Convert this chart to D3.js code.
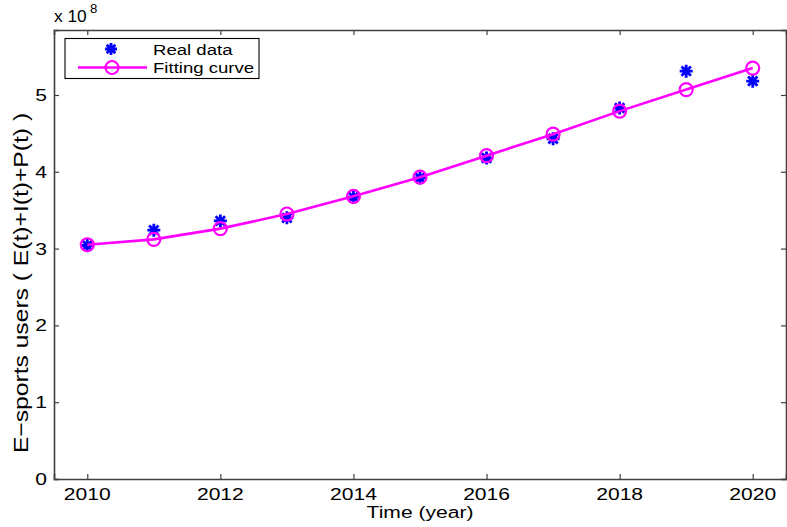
<!DOCTYPE html>
<html><head><meta charset="utf-8">
<script src="https://cdn.jsdelivr.net/npm/d3@7/dist/d3.min.js"></script>
<style>body{margin:0;background:#fff}svg{display:block}text{font-family:"Liberation Sans",Arial,sans-serif;fill:#000}</style>
</head><body><svg id="c" width="787" height="527"></svg>
<script>
const years = [2010,2011,2012,2013,2014,2015,2016,2017,2018,2019,2020];
const realData = [3.04e8,3.24e8,3.36e8,3.40e8,3.67e8,3.92e8,4.18e8,4.43e8,4.83e8,5.31e8,5.18e8];
const fittingCurve = [3.05e8,3.12e8,3.26e8,3.45e8,3.68e8,3.93e8,4.21e8,4.49e8,4.79e8,5.07e8,5.35e8];
const xTicks = [2010,2012,2014,2016,2018,2020];
const yTicks = [0,1e8,2e8,3e8,4e8,5e8];
const yTickLabels = ["0","1","2","3","4","5"];
const legendLabels = ["Real data","Fitting curve"];

const SX = 1.24;
const svg = d3.select("#c");
const L=54, R=786, T=30, B=479;
const x = d3.scaleLinear().domain([2009.5,2020.5]).range([L,R]);
const y = d3.scaleLinear().domain([0,5.846e8]).range([B,T]);
const axisCol = "#404040";

function stext(g, tx, ty, str, size, anchor, sx){
  return g.append("text").attr("transform",`translate(${tx},${ty}) scale(${sx||SX},1)`)
   .attr("text-anchor",anchor||"middle").attr("font-size",size).text(str);
}

// axes
const gx = svg.append("g").attr("transform",`translate(0,${B})`)
  .call(d3.axisBottom(x).tickValues(xTicks).tickSize(-5).tickFormat(""));
const gxt = svg.append("g").attr("transform",`translate(0,${T})`)
  .call(d3.axisTop(x).tickValues(xTicks).tickSize(-5).tickFormat(""));
const gy = svg.append("g").attr("transform",`translate(${L},0)`)
  .call(d3.axisLeft(y).tickValues(yTicks).tickSize(-5).tickFormat(""));
const gyr = svg.append("g").attr("transform",`translate(${R},0)`)
  .call(d3.axisRight(y).tickValues(yTicks).tickSize(-5).tickFormat(""));
[gx,gxt,gy,gyr].forEach(g=>{
  g.select(".domain").attr("stroke",axisCol).attr("stroke-width",1.6);
  g.selectAll(".tick line").attr("stroke",axisCol).attr("stroke-width",1.2);
});

// tick labels
xTicks.forEach(v=>stext(svg, x(v), 500, String(v), 17, "middle"));
yTicks.forEach((v,i)=>stext(svg, 47, y(v)+6, yTickLabels[i], 17, "end"));

// exponent
stext(svg, 54, 22, "x 10", 17, "start", 1.02);
stext(svg, 90, 13, "8", 12, "start", 1.1);

// axis titles
stext(svg, (L+R)/2, 518, "Time (year)", 17, "middle");
svg.append("text").attr("transform",`translate(28,283) rotate(-90) scale(1.45,${SX})`)
  .attr("text-anchor","middle").attr("font-size",17).text("E\u2212sports users ( E(t)+I(t)+P(t) )");

// star marker
function star(g, cx, cy, s){
  const r=s, d=s*0.72;
  g.append("path").attr("d",`M${cx-r},${cy}L${cx+r},${cy}M${cx},${cy-r}L${cx},${cy+r}M${cx-d},${cy-d}L${cx+d},${cy+d}M${cx-d},${cy+d}L${cx+d},${cy-d}`)
   .attr("stroke","#0000ff").attr("stroke-width",2.8).attr("fill","none");
}
const gs = svg.append("g");
years.forEach((yr,i)=>star(gs, x(yr), y(realData[i]), 6.5));

// fitting curve
const line = d3.line().x((d,i)=>x(years[i])).y(d=>y(d));
svg.append("path").datum(fittingCurve).attr("d",line)
  .attr("fill","none").attr("stroke","#ff00ff").attr("stroke-width",2.6);
svg.append("g").selectAll("circle").data(fittingCurve).join("circle")
  .attr("cx",(d,i)=>x(years[i])).attr("cy",d=>y(d)).attr("r",6.5)
  .attr("fill","none").attr("stroke","#ff00ff").attr("stroke-width",2.2);

// legend
const lg = svg.append("g");
lg.append("rect").attr("x",65).attr("y",38.5).attr("width",194).attr("height",40)
  .attr("fill","#fff").attr("stroke","#000").attr("stroke-width",1.1);
star(lg, 111, 49, 6);
lg.append("line").attr("x1",78).attr("x2",147).attr("y1",67.5).attr("y2",67.5)
  .attr("stroke","#ff00ff").attr("stroke-width",2.6);
lg.append("circle").attr("cx",112).attr("cy",67.5).attr("r",6.5)
  .attr("fill","none").attr("stroke","#ff00ff").attr("stroke-width",2.2);
stext(lg, 153, 55, legendLabels[0], 15, "start");
stext(lg, 153, 73, legendLabels[1], 15, "start");
</script></body></html>
